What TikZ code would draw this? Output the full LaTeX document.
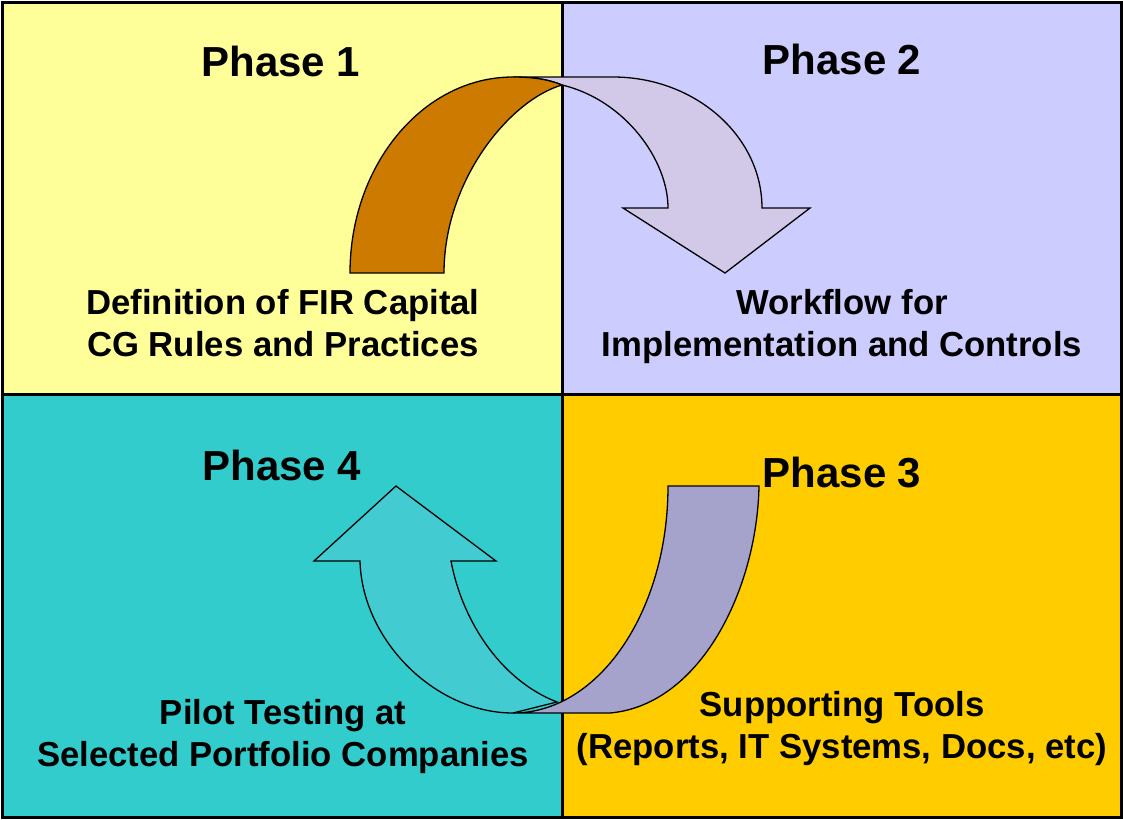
\documentclass[tikz,border=0pt]{standalone}
\usepackage{fontspec}
\setmainfont{Liberation Sans}
\usetikzlibrary{positioning}
\definecolor{phaseyellow}{HTML}{FFFF99}
\definecolor{phaselilac}{HTML}{CCCCFF}
\definecolor{phaseteal}{HTML}{33CCCC}
\definecolor{phasegold}{HTML}{FFCC00}
\definecolor{bendbrown}{HTML}{CC7A00}
\definecolor{bendlilac}{HTML}{D1C9E7}
\definecolor{bendteal}{HTML}{42CCD1}
\definecolor{bendpurple}{HTML}{A5A3CB}
\tikzset{
  frame/.style={draw=black, line width=3pt},
  phasetitle/.style={font=\fontsize{42}{50}\selectfont\bfseries},
  phasetext/.style={align=center, font=\fontsize{34.7}{42}\selectfont\bfseries},
  bendarrow/.style={draw=black, line width=1.3pt, line join=miter}
}

\begin{document}
\begin{tikzpicture}[x=1pt,y=-1pt]
\useasboundingbox (0,0) rectangle (1123,819);
% quadrants
\fill[phaseyellow] (2,2) rectangle (562,394);
\fill[phaselilac] (562,2) rectangle (1121,394);
\fill[phaseteal] (2,394) rectangle (562,817);
\fill[phasegold] (562,394) rectangle (1121,817);
\draw[frame] (2,2) rectangle (1121,817);
\draw[frame] (562,2) -- (562,817);
\draw[frame] (2,394) -- (1121,394);

% Phase 1 -> Phase 2 bend
\draw[bendarrow, fill=bendlilac] (513,77) -- (613,77)
  .. controls (695,77) and (762,136) .. (762,208)
  -- (810,208) -- (725,273) -- (623,208) -- (668,208)
  .. controls (668,160) and (625,100) .. (562,85)
  .. controls (550,80) and (535,77) .. (513,77) -- cycle;
\draw[bendarrow, fill=bendbrown] (350,273)
  .. controls (350,165) and (423,77) .. (513,77)
  .. controls (535,77) and (550,80) .. (562,85)
  .. controls (510,100) and (444,180) .. (444,273) -- cycle;

% Phase 3 -> Phase 4 bend
\draw[bendarrow, fill=bendteal] (396,486) -- (496,561) -- (451,561)
  .. controls (462,620) and (500,680) .. (557,702)
  -- (513,713)
  .. controls (435,713) and (362,640) .. (360,561)
  -- (314,561) -- cycle;
\draw[bendarrow, fill=bendpurple] (668,486) -- (759,486)
  .. controls (757,590) and (700,705) .. (610,713)
  -- (513,713)
  .. controls (599,713) and (668,611) .. (668,486) -- cycle;

% labels
\node[phasetitle] (t1) at (281,61) {Phase 1};
\node[phasetitle] (t2) at (842,59) {Phase 2};
\node[phasetitle] (t4) at (282,465) {Phase 4};
\node[phasetitle] (t3) at (842,473) {Phase 3};
\node[phasetext] (d1) at (283,323) {Definition of FIR Capital\\CG Rules and Practices};
\node[phasetext] (d2) at (842,327) {Workflow for\\Implementation and Controls};
\node[phasetext] (d4) at (283,737) {Pilot Testing at\\Selected Portfolio Companies};
\node[phasetext] (d3) at (842,729) {Supporting Tools\\(Reports, IT Systems, Docs, etc)};
\end{tikzpicture}
\end{document}
